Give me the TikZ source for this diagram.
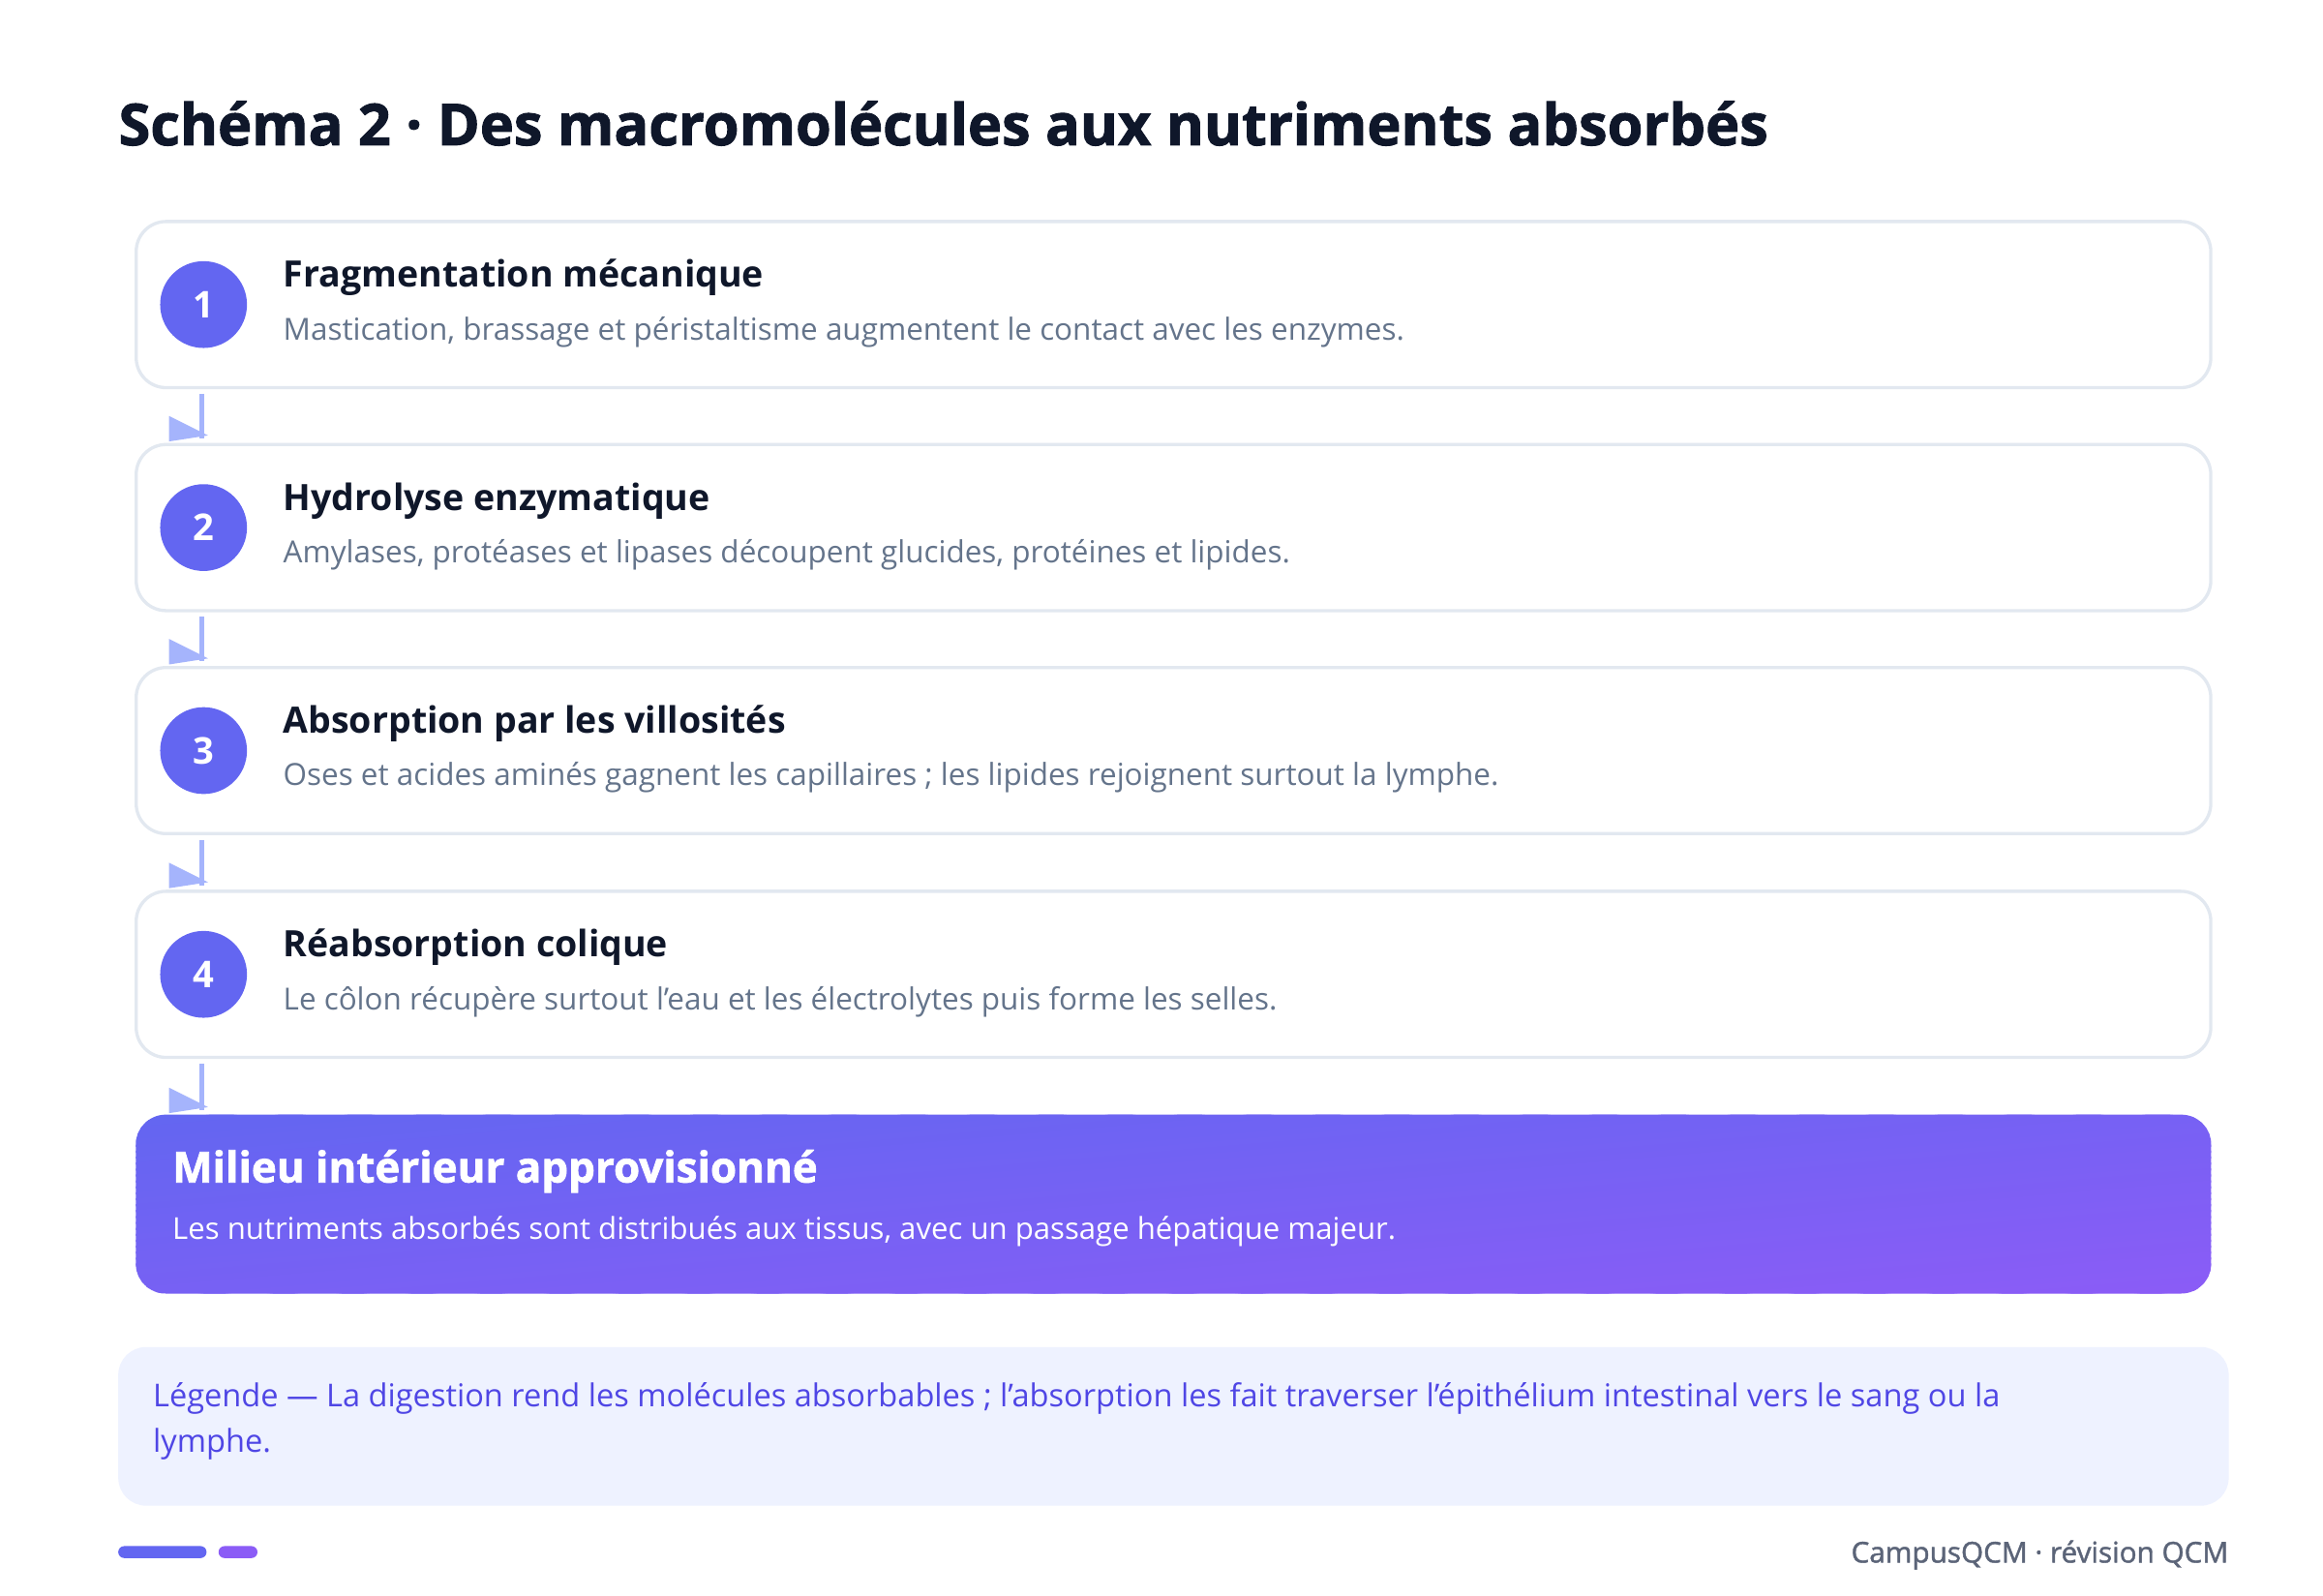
\documentclass[tikz,border=0pt]{standalone}
\usepackage{fontspec}
\setmainfont{Open Sans}
\IfFontExistsTF{Open Sans Bold}
  {\newfontfamily\boldfont{Open Sans Bold}
   \newfontfamily\heavyfont{Open Sans Bold}[FakeBold=1.6]}
  {\newfontfamily\boldfont{Open Sans}[FakeBold=2]
   \newfontfamily\heavyfont{Open Sans}[FakeBold=3.5]}
\newfontfamily\semifont{Open Sans}[FakeBold=1.4]
\usetikzlibrary{calc}
\definecolor{indigo}{HTML}{6366F1}
\definecolor{violet}{HTML}{8B5CF6}
\definecolor{slatedark}{HTML}{0F172A}
\definecolor{slategray}{HTML}{64748B}
\definecolor{footgray}{HTML}{5B6478}
\definecolor{bordergray}{HTML}{E2E8F0}
\definecolor{arrowblue}{HTML}{A5B4FC}
\definecolor{legendbg}{HTML}{EEF2FF}
\definecolor{legendtext}{HTML}{4F46E5}
\newcommand{\fs}[1]{\fontsize{#1}{1.2\dimexpr #1\relax}\selectfont}
\begin{document}
\begin{tikzpicture}[x=0.75pt,y=-0.75pt,
  stepbox/.style={draw=bordergray, line width=1.6pt, fill=white, rounded corners=15pt,
    minimum width=1039.5pt, minimum height=83.25pt, inner sep=0pt},
  num/.style={circle, fill=indigo, minimum size=43.5pt, inner sep=0pt, text=white,
    font=\boldfont\fs{18.5pt}},
  head/.style={anchor=base west, inner sep=0pt, text=slatedark, font=\boldfont\fs{18.2pt}},
  desc/.style={anchor=base west, inner sep=0pt, text=slategray, font=\fs{15.25pt}},
  conn/.style={draw=arrowblue, line width=2.2pt},
  tip/.style={fill=arrowblue},
  finalbox/.style={minimum width=1039.5pt, minimum height=89.25pt, inner sep=0pt},
  legendbox/.style={fill=legendbg, rounded corners=14pt, minimum width=1057.5pt,
    minimum height=79.5pt, inner sep=0pt},
  pill/.style={rounded corners=3pt, minimum height=6pt, inner sep=0pt}
]
\fill[white] (0,0) rectangle (1552,1066);
\useasboundingbox (0,0) rectangle (1552,1066);

% title
\node[anchor=base west, inner sep=0pt, text=slatedark, font=\heavyfont\fs{28.85pt}] (title) at (79,97)
  {Schéma 2 · Des macromolécules aux nutriments absorbés};

% step boxes
\node[stepbox] (s1) at (784,203.5) {};
\node[stepbox] (s2) at (784,352.5) {};
\node[stepbox] (s3) at (784,501.5) {};
\node[stepbox] (s4) at (784,651) {};

\node[num] (c1) at (136,203.5) {1};
\node[num] (c2) at (136,352.5) {2};
\node[num] (c3) at (136,501.5) {3};
\node[num] (c4) at (136,651) {4};

\node[head] (h1) at (189,192) {Fragmentation mécanique};
\node[desc] (d1) at (189,227) {Mastication, brassage et péristaltisme augmentent le contact avec les enzymes.};
\node[head] (h2) at (189,341) {Hydrolyse enzymatique};
\node[desc] (d2) at (189,376) {Amylases, protéases et lipases découpent glucides, protéines et lipides.};
\node[head] (h3) at (189,490) {Absorption par les villosités};
\node[desc] (d3) at (189,525) {Oses et acides aminés gagnent les capillaires ; les lipides rejoignent surtout la lymphe.};
\node[head] (h4) at (189,639.5) {Réabsorption colique};
\node[desc] (d4) at (189,674.5) {Le côlon récupère surtout l'eau et les électrolytes puis forme les selles.};

% final box with diagonal gradient (normalised, top-left to bottom-right)
\node[finalbox] (f) at (784,804.5) {};
\begin{scope}
  \clip[rounded corners=15pt] (f.south west) rectangle (f.north east);
  \foreach \i in {0,...,59} {
    \pgfmathsetmacro\ca{\i/30}
    \pgfmathsetmacro\cb{(\i+1)/30+0.012}
    \pgfmathsetmacro\pc{(\i+0.5)/60*100}
    \fill[violet!\pc!indigo]
      ({91+(\ca+1)*1386},{745-119}) -- ({91+(\cb+1)*1386},{745-119}) --
      ({91+(\cb-2)*1386},{745+2*119}) -- ({91+(\ca-2)*1386},{745+2*119}) -- cycle;
  }
\end{scope}
\node[anchor=base west, inner sep=0pt, text=white, font=\heavyfont\fs{21.3pt}] (fh) at (115,790)
  {Milieu intérieur approvisionné};
\node[anchor=base west, inner sep=0pt, text=white, font=\fs{15.1pt}] (fd) at (115,828)
  {Les nutriments absorbés sont distribués aux tissus, avec un passage hépatique majeur.};

% connectors
\foreach \a/\b in {s1/s2, s2/s3, s3/s4, s4/f} {
  \draw[conn] ($(c1|-\a.south)+(-1,3)$) -- ($(c1|-\b.north)+(-1,-3)$);
  \fill[tip] ($(c1|-\b.north)+(-23,-18)$) -- ($(c1|-\b.north)+(-23,-1)$) -- ($(c1|-\b.north)+(3,-5)$) -- cycle;
}

% legend
\node[legendbox] (l) at (784,953) {};
\node[anchor=base west, inner sep=0pt, text=legendtext, font=\fs{15.8pt}] (l1) at (102,940)
  {Légende — La digestion rend les molécules absorbables ; l'absorption les fait traverser l'épithélium intestinal vers le sang ou la};
\node[anchor=base west, inner sep=0pt, text=legendtext, font=\fs{15.8pt}] (l2) at (102,970) {lymphe.};

% footer
\node[pill, fill=indigo, minimum width=44.25pt] (p1) at (108.5,1037) {};
\node[pill, fill=violet, minimum width=19.5pt] (p2) at (159,1037) {};
\node[anchor=base east, inner sep=0pt, text=footgray, font=\semifont\fs{14.4pt}] (foot) at (1489,1044)
  {CampusQCM · révision QCM};
\end{tikzpicture}
\end{document}
